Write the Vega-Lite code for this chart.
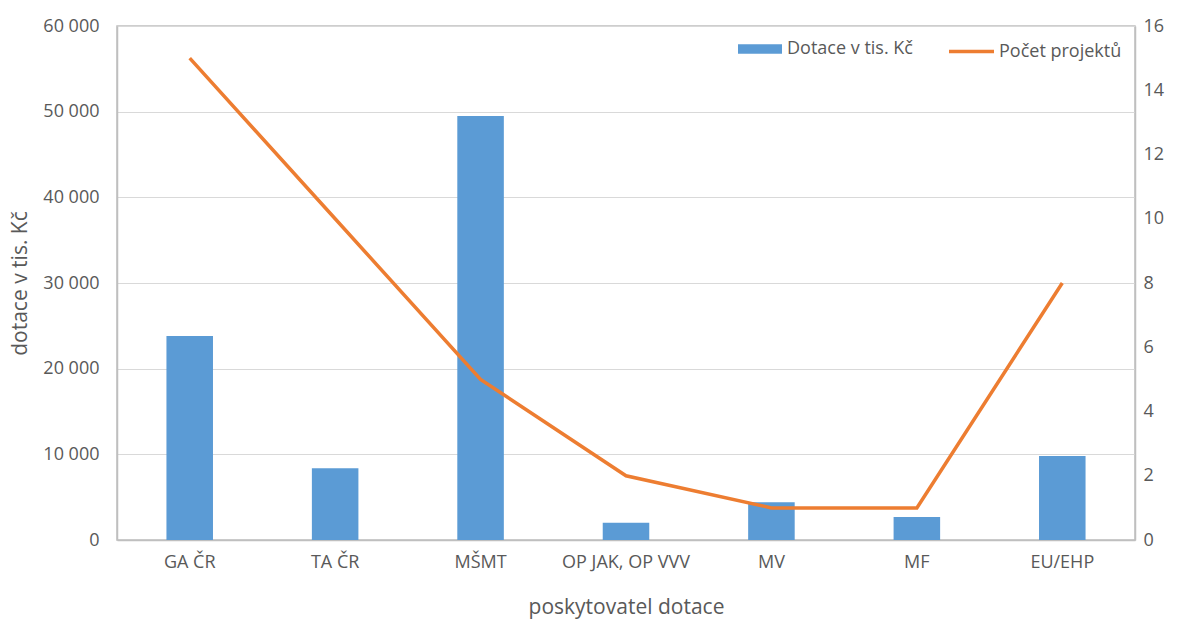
{
  "$schema": "https://vega.github.io/schema/vega-lite/v6.json",
  "width": 1018,
  "height": 514,
  "autosize": {"type": "none"},
  "padding": {"left": 117, "top": 26, "right": 44, "bottom": 79},
  "config": {
    "font": "Open Sans",
    "view": {"stroke": "#BFBFBF", "strokeWidth": 1.5},
    "locale": {"number": {"decimal": ",", "thousands": " ", "grouping": [3], "currency": ["", ""]}}
  },
  "data": {
    "values": [
      {"poskytovatel": "GA ČR", "dotace": 23800, "projekty": 15},
      {"poskytovatel": "TA ČR", "dotace": 8370, "projekty": 10},
      {"poskytovatel": "MŠMT", "dotace": 49500, "projekty": 5},
      {"poskytovatel": "OP JAK, OP VVV", "dotace": 2020, "projekty": 2},
      {"poskytovatel": "MV", "dotace": 4400, "projekty": 1},
      {"poskytovatel": "MF", "dotace": 2680, "projekty": 1},
      {"poskytovatel": "EU/EHP", "dotace": 9800, "projekty": 8}
    ]
  },
  "encoding": {
    "x": {
      "field": "poskytovatel",
      "type": "nominal",
      "sort": null,
      "title": "poskytovatel dotace",
      "scale": {"paddingInner": 0.68, "paddingOuter": 0.34},
      "axis": {
        "labelAngle": 0,
        "ticks": false,
        "domainColor": "#BFBFBF",
        "domainWidth": 1.5,
        "labelPadding": 13,
        "labelFontSize": 18,
        "labelColor": "#595959",
        "titleFontSize": 21,
        "titleFontWeight": "normal",
        "titleColor": "#595959",
        "titlePadding": 25
      }
    }
  },
  "layer": [
    {
      "mark": {"type": "bar"},
      "encoding": {
        "y": {
          "field": "dotace",
          "type": "quantitative",
          "title": "dotace v tis. Kč",
          "scale": {"domain": [0, 60000]},
          "axis": {
            "values": [0, 10000, 20000, 30000, 40000, 50000, 60000],
            "format": ",d",
            "ticks": false,
            "domainColor": "#BFBFBF",
            "domainWidth": 1.5,
            "gridColor": "#D9D9D9",
            "labelPadding": 18,
            "labelFontSize": 18,
            "labelColor": "#595959",
            "titleFontSize": 21,
            "titleFontWeight": "normal",
            "titleColor": "#595959",
            "titlePadding": 12
          }
        },
        "fill": {
          "datum": "Dotace v tis. Kč",
          "scale": {"range": ["#5B9BD5"]},
          "legend": {
            "title": null,
            "orient": "none",
            "legendX": 621,
            "legendY": 1,
            "symbolType": "M-1,-0.22H1V0.22H-1Z",
            "symbolSize": 1936,
            "symbolStrokeWidth": 0,
            "labelFontSize": 18,
            "labelColor": "#595959",
            "labelOffset": 5
          }
        }
      }
    },
    {
      "mark": {"type": "line", "strokeWidth": 3.5},
      "encoding": {
        "y": {
          "field": "projekty",
          "type": "quantitative",
          "scale": {"domain": [0, 16]},
          "axis": {
            "orient": "right",
            "title": null,
            "grid": false,
            "values": [0, 2, 4, 6, 8, 10, 12, 14, 16],
            "ticks": false,
            "domainColor": "#BFBFBF",
            "domainWidth": 1.5,
            "labelPadding": 8,
            "labelFontSize": 18,
            "labelColor": "#595959"
          }
        },
        "stroke": {
          "datum": "Počet projektů",
          "scale": {"range": ["#ED7D31"]},
          "legend": {
            "title": null,
            "orient": "none",
            "legendX": 830,
            "legendY": 1,
            "symbolType": "stroke",
            "symbolSize": 2025,
            "symbolStrokeWidth": 3.5,
            "labelFontSize": 18,
            "labelColor": "#595959",
            "labelOffset": 3
          }
        }
      }
    }
  ],
  "resolve": {"scale": {"y": "independent", "fill": "independent", "stroke": "independent"}}
}
